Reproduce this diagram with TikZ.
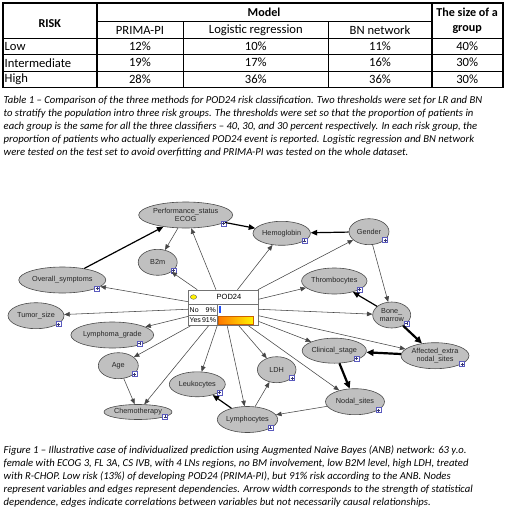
\documentclass[tikz,border=0pt]{standalone}
\usepackage{fontspec}
\setmainfont{Carlito}
\newfontfamily\netfont{Liberation Sans}
\usetikzlibrary{arrows.meta,calc,shapes.geometric}
\definecolor{nodegray}{RGB}{192,192,192}
\definecolor{plusblue}{RGB}{90,90,190}
\definecolor{edgegray}{RGB}{70,70,70}
\definecolor{barblue}{RGB}{30,80,255}
\definecolor{barorange}{RGB}{255,120,0}
\definecolor{baryellow}{RGB}{255,245,0}
\newcommand\vnode[6]{%
  \node[varnode, minimum width=#4*2pt, minimum height=#5*2pt] (#1) at (#2,#3) {#6};
  \node[plusbox] (#1p) at ($(#1)+(0.8*#4,0.64*#5)$) {};
}
\begin{document}
\begin{tikzpicture}[x=1pt,y=-1pt,
 varnode/.style={ellipse, draw=black!70, fill=nodegray, inner sep=0pt, line width=0.6pt,
   font=\netfont\fontsize{7.3}{8.4}\selectfont, text=black!85, align=center},
 plusbox/.style={rectangle, draw=plusblue, fill=white, minimum size=5pt, inner sep=0pt, line width=0.5pt,
   path picture={\draw[plusblue!60!black, line width=0.45pt]
     ([yshift=-1pt]path picture bounding box.north) -- ([yshift=1pt]path picture bounding box.south)
     ([xshift=1pt]path picture bounding box.west) -- ([xshift=-1pt]path picture bounding box.east);}},
 edgeA/.style={draw=edgegray, line width=0.55pt, -{Triangle[length=5.5pt,width=4.5pt]}},
 edgeB/.style={draw=black, line width=1.2pt, -{Triangle[length=6.5pt,width=5.5pt]}},
 edgeC/.style={draw=black, line width=2.2pt, -{Triangle[length=7pt,width=6.5pt]}},
 cell/.style={inner sep=0pt, font=\fontsize{12.6}{15}\selectfont},
 hcell/.style={inner sep=0pt, font=\bfseries\fontsize{12.1}{15}\selectfont},
 capline/.style={anchor=base west, inner sep=0pt, font=\itshape\fontsize{10.65}{13}\selectfont},
 tline/.style={line width=0.8pt},
 tthick/.style={line width=1.6pt},
 boxtext/.style={inner sep=0pt, font=\netfont\fontsize{7}{8}\selectfont}
]
\useasboundingbox[fill=white] (0,0) rectangle (520,517);

% ---------- table ----------
\draw[tline] (96.7,21) -- (431.7,21);
\draw[tline] (2.7,54.5) -- (502.7,54.5);
\draw[tline] (2.7,71) -- (502.7,71);
\draw[tline] (183.3,21) -- (183.3,87.5);
\draw[tline] (328.3,21) -- (328.3,87.5);
\draw[tthick] (2.7,38.5) -- (502.7,38.5);
\draw[tthick] (96.7,3) -- (96.7,87.5);
\draw[tthick] (431.7,3) -- (431.7,87.5);
\draw[tthick] (2.7,3) rectangle (502.7,87.5);

\node[hcell] (hrisk) at (49.7,24) {RISK};
\node[hcell] (hmodel) at (264,12.5) {Model};
\node[hcell] (hsize1) at (467.2,12.5) {The size of a};
\node[hcell] (hsize2) at (467.2,30) {group};
\node[cell] (hprima) at (140,30) {PRIMA-PI};
\node[cell] (hlr) at (255.8,30) {Logistic regression};
\node[cell] (hbn) at (380,30) {BN network};

\node[cell, anchor=west] (rlow) at (4.5,46.5) {Low};
\node[cell, anchor=west] (rint) at (4.5,62.7) {Intermediate};
\node[cell, anchor=west] (rhigh) at (4.5,79.2) {High};

\node[cell] (c11) at (140,46.5) {12\%};
\node[cell] (c12) at (255.8,46.5) {10\%};
\node[cell] (c13) at (380,46.5) {11\%};
\node[cell] (c14) at (467.2,46.5) {40\%};
\node[cell] (c21) at (140,62.7) {19\%};
\node[cell] (c22) at (255.8,62.7) {17\%};
\node[cell] (c23) at (380,62.7) {16\%};
\node[cell] (c24) at (467.2,62.7) {30\%};
\node[cell] (c31) at (140,79.2) {28\%};
\node[cell] (c32) at (255.8,79.2) {36\%};
\node[cell] (c33) at (380,79.2) {36\%};
\node[cell] (c34) at (467.2,79.2) {30\%};

% ---------- table caption ----------
\node[capline] (tc1) at (3.5,103) {Table 1 – Comparison of the three methods for POD24 risk classification. Two thresholds were set for LR and BN};
\node[capline] (tc2) at (3.5,116) {to stratify the population intro three risk groups. The thresholds were set so that the proportion of patients in};
\node[capline] (tc3) at (3.5,129) {each group is the same for all the three classifiers – 40, 30, and 30 percent respectively. In each risk group, the};
\node[capline] (tc4) at (3.5,142) {proportion of patients who actually experienced POD24 event is reported. Logistic regression and BN network};
\node[capline] (tc5) at (3.5,155) {were tested on the test set to avoid overfitting and PRIMA-PI was tested on the whole dataset.};

% ---------- network nodes ----------
\vnode{perf}{185.7}{215}{47}{13}{Performance\_status\\ECOG}
\vnode{hemo}{281.7}{233.3}{28.7}{12}{Hemoglobin}
\vnode{gender}{369}{231.7}{20}{13}{Gender}
\vnode{btwo}{157.7}{262.3}{19.5}{13}{B2m}
\vnode{overall}{62.3}{280}{43.5}{13}{Overall\_symptoms}
\vnode{thromb}{334.3}{281}{31.7}{13}{Thrombocytes}
\vnode{tumor}{36}{315.7}{28}{13}{Tumor\_size}
\vnode{bone}{391.7}{315}{19}{13}{Bone\_\\marrow}
\vnode{lgrade}{112.3}{335}{34.5}{13}{Lymphoma\_grade}
\vnode{clin}{334.3}{350.7}{28}{12.5}{Clinical\_stage}
\vnode{aff}{435}{355.7}{34}{13}{Affected\_extra\\nodal\_sites}
\vnode{age}{118.3}{365.7}{20}{13}{Age}
\vnode{ldh}{276.7}{369.7}{19.3}{13}{LDH}
\vnode{leuk}{197.3}{384.3}{28}{12.5}{Leukocytes}
\vnode{nodal}{355}{401.7}{29.5}{13}{Nodal\_sites}
\vnode{chemo}{138}{412}{34}{7.5}{Chemotherapy}
\vnode{lymph}{247.5}{419.5}{28.5}{13}{Lymphocytes}

% ---------- POD24 box ----------
\node[rectangle, draw=black!55, fill=white, line width=0.6pt, minimum width=70pt, minimum height=35.5pt, inner sep=0pt] (pod) at (223.3,307.75) {};
\draw[black!55, line width=0.6pt] (188.3,304.5) -- (258.3,304.5);
\draw[black!55, line width=0.6pt] (217,304.5) -- (217,325.5);
\draw[black!55, line width=0.6pt] (188.3,315) -- (217,315);
\node[ellipse, draw=black!60, fill=yellow, minimum width=6.4pt, minimum height=4.6pt, inner sep=0pt] (podlamp) at (193.5,297) {};
\node[boxtext, font=\netfont\fontsize{7.5}{8}\selectfont] (podtitle) at (229,297.3) {POD24};
\node[boxtext, anchor=west] (noL) at (189.5,309.8) {No};
\node[boxtext, anchor=east] (noV) at (216,309.8) {9\%};
\node[boxtext, anchor=west] (yesL) at (189.3,320.3) {Yes};
\node[boxtext, anchor=east] (yesV) at (216.3,320.3) {91\%};
\fill[barblue] (218.5,305.5) rectangle (221.2,313);
\shade[left color=barorange, right color=baryellow] (218.5,316) rectangle (253.5,324);
\draw[barorange!80!black, line width=0.5pt] (218.5,316) rectangle (253.5,324);

% ---------- edges ----------
\draw[edgeA] (pod) -- (perf);
\draw[edgeA] (pod) -- (btwo);
\draw[edgeA] (pod) -- (hemo);
\draw[edgeA] (pod) -- (gender);
\draw[edgeA] (pod) -- (overall);
\draw[edgeA] (pod) -- (thromb);
\draw[edgeA] (pod) -- (tumor);
\draw[edgeA] (pod) -- (bone);
\draw[edgeA] (pod) -- (lgrade);
\draw[edgeA] (pod) -- (age);
\draw[edgeA] (pod) -- (chemo);
\draw[edgeA] (pod) -- (leuk);
\draw[edgeA] (pod) -- (lymph);
\draw[edgeA] (pod) -- (ldh);
\draw[edgeA] (pod) -- (nodal);
\draw[edgeA] (pod) -- (clin);
\draw[edgeA] (pod) -- (aff);
\draw[edgeA] (perf) -- (btwo);
\draw[edgeA] (gender) -- (bone);
\draw[edgeA] (nodal) -- (lymph);
\draw[edgeA] (lymph) -- (ldh);
\draw[edgeA] (age) -- (chemo);
\draw[edgeB] (perf) -- (hemo);
\draw[edgeB] (overall) -- (perf);
\draw[edgeB] (gender) -- (hemo);
\draw[edgeB] (bone) -- (thromb);
\draw[edgeB] (lymph) -- (leuk);
\draw[edgeC] (bone) -- (aff);
\draw[edgeC] (aff) -- (clin);
\draw[edgeC] (clin) -- (nodal);

% ---------- figure caption ----------
\node[capline] (fc1) at (3.5,453) {Figure 1 – Illustrative case of individualized prediction using Augmented Naive Bayes (ANB) network: 63 y.o.};
\node[capline] (fc2) at (3.5,466) {female with ECOG 3, FL 3A, CS IVB, with 4 LNs regions, no BM involvement, low B2M level, high LDH, treated};
\node[capline] (fc3) at (3.5,479) {with R-CHOP. Low risk (13\%) of developing POD24 (PRIMA-PI), but 91\% risk according to the ANB. Nodes};
\node[capline] (fc4) at (3.5,492) {represent variables and edges represent dependencies. Arrow width corresponds to the strength of statistical};
\node[capline] (fc5) at (3.5,505) {dependence, edges indicate correlations between variables but not necessarily causal relationships.};
\end{tikzpicture}
\end{document}
